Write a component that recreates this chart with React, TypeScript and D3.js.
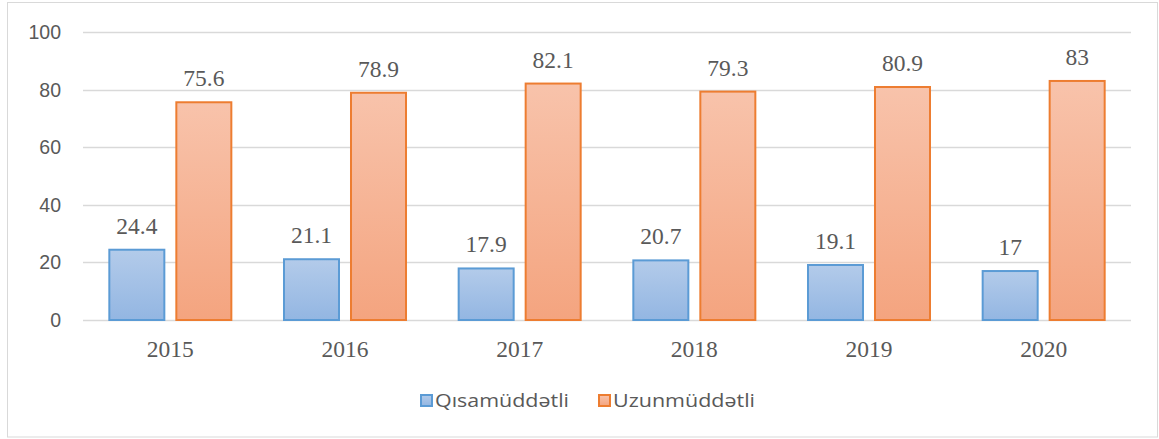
import React from "react";
import * as d3 from "d3";

const categories = ["2015", "2016", "2017", "2018", "2019", "2020"];
const seriesNames = ["Qısamüddətli", "Uzunmüddətli"];
const shortTerm = [24.4, 21.1, 17.9, 20.7, 19.1, 17];
const longTerm = [75.6, 78.9, 82.1, 79.3, 80.9, 83];
const yTicks = [0, 20, 40, 60, 80, 100];

const W = 1159;
const H = 439;
const plot = { left: 83, right: 1131, top: 32, bottom: 320 };

const fills = ["url(#gBlue)", "url(#gOrange)"];
const strokes = ["#5b9bd5", "#ed7d31"];

export default function App() {
  const x0 = d3.scaleBand<string>().domain(categories).range([plot.left, plot.right]);
  const x1 = d3
    .scaleBand<number>()
    .domain([0, 1])
    .range([0, x0.bandwidth()])
    .paddingInner(0.179)
    .paddingOuter(0.393);
  const y = d3.scaleLinear().domain([0, 100]).range([plot.bottom, plot.top]);
  const series = [shortTerm, longTerm];

  return (
    <svg
      width={W}
      height={H}
      style={{ position: "absolute", left: 0, top: 0, background: "#fff" }}
    >
      <defs>
        <linearGradient id="gBlue" x1="0" y1="0" x2="0" y2="1">
          <stop offset="0" stopColor="#b3cbea" />
          <stop offset="1" stopColor="#93b6e2" />
        </linearGradient>
        <linearGradient id="gOrange" x1="0" y1="0" x2="0" y2="1">
          <stop offset="0" stopColor="#f8c3ab" />
          <stop offset="1" stopColor="#f4a47f" />
        </linearGradient>
        <linearGradient id="lBlue" x1="0" y1="0" x2="0" y2="1">
          <stop offset="0" stopColor="#b3cbea" />
          <stop offset="1" stopColor="#93b6e2" />
        </linearGradient>
      </defs>
      <rect x={7.5} y={2.5} width={1150} height={434.5} fill="#fff" stroke="#d9d9d9" strokeWidth={1} />

      {yTicks.map((t) => (
        <g key={t}>
          <line
            x1={plot.left}
            x2={plot.right}
            y1={Math.round(y(t)) + 0.5}
            y2={Math.round(y(t)) + 0.5}
            stroke="#d9d9d9"
            strokeWidth={t === 0 ? 1.5 : 1.5}
          />
          <text
            x={61}
            y={y(t) + 7}
            textAnchor="end"
            fontFamily="'Liberation Sans', Arial, sans-serif"
            fontSize={19.5}
            fill="#595959"
          >
            {t}
          </text>
        </g>
      ))}

      {categories.map((c, i) => (
        <g key={c}>
          {series.map((vals, s) => {
            const bx = (x0(c) as number) + (x1(s) as number);
            const bw = x1.bandwidth();
            const top = y(vals[i]);
            return (
              <g key={s}>
                <rect
                  x={bx}
                  y={top}
                  width={bw}
                  height={plot.bottom - top}
                  fill={fills[s]}
                  stroke={strokes[s]}
                  strokeWidth={2}
                />
                <text
                  x={bx + bw / 2}
                  y={top - 16}
                  textAnchor="middle"
                  fontFamily="'Liberation Serif', 'Times New Roman', serif"
                  fontSize={23.5}
                  fill="#595959"
                >
                  {String(vals[i])}
                </text>
              </g>
            );
          })}
          <text
            x={(x0(c) as number) + x0.bandwidth() / 2}
            y={357}
            textAnchor="middle"
            fontFamily="'Liberation Serif', 'Times New Roman', serif"
            fontSize={23.5}
            fill="#595959"
          >
            {c}
          </text>
        </g>
      ))}

      {seriesNames.map((name, s) => {
        const lx = s === 0 ? 420 : 598;
        return (
          <g key={name}>
            <rect x={lx + 1} y={395} width={11} height={11} fill={fills[s]} stroke={strokes[s]} strokeWidth={2} />
            <text
              x={lx + 15}
              y={407}
              fontFamily="'Open Sans', 'Noto Sans', sans-serif"
              fontSize={18}
              fill="#595959"
              textLength={s === 0 ? 134 : 142}
              lengthAdjust="spacingAndGlyphs"
            >
              {name}
            </text>
          </g>
        );
      })}
    </svg>
  );
}
